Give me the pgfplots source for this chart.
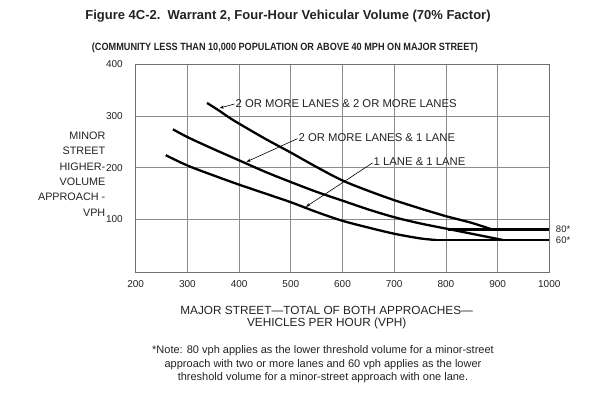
\documentclass[border=0pt]{standalone}
\usepackage{fontspec}
\setmainfont{Liberation Sans}
\usepackage{pgfplots}
\pgfplotsset{compat=1.18}
\usetikzlibrary{arrows.meta}
\definecolor{txt}{HTML}{222222}
\definecolor{gridc}{HTML}{8C8C8C}
\begin{document}
\begin{tikzpicture}
\path[use as bounding box] (-135.7pt,-123pt) rectangle (454.3pt,272pt);
\begin{axis}[
  at={(0pt,0pt)}, anchor=south west,
  scale only axis, width=413.6pt, height=207.8pt,
  xmin=200, xmax=1000, ymin=-2, ymax=400,
  xtick={200,300,400,500,600,700,800,900,1000},
  ytick={100,200,300,400},
  grid=major,
  major grid style={gridc, line width=0.7pt},
  axis line style={gridc!80!black, line width=0.8pt},
  major tick length=0pt,
  tick style={draw=none},
  clip=false,
  /pgf/number format/assume math mode=true,
  /pgf/number format/1000 sep={},
  ticklabel style={font=\fontsize{10}{12}\selectfont, text=txt},
  yticklabel style={xshift=-9.4pt},
  xticklabel style={yshift=-5pt},
]
% 2 or more lanes & 2 or more lanes
\addplot[black, line width=2.3pt, smooth] coordinates {
 (338,325) (360,311) (382,296) (400,285) (450,256) (500,229) (550,201)
 (600,175) (650,155) (700,137) (750,121) (800,106) (850,93) (890,80)};
% 2 or more lanes & 1 lane
\addplot[black, line width=2.3pt, smooth] coordinates {
 (272,274) (300,259) (350,236) (400,214) (450,192) (500,172) (550,153)
 (600,136) (650,119) (700,104) (750,92) (805,81) (850,72) (910,60)};
% 1 lane & 1 lane
\addplot[black, line width=2.3pt, smooth] coordinates {
 (258,224) (300,204) (350,185) (400,167) (450,150) (500,133) (550,114)
 (600,97) (650,84) (700,72) (750,63) (780,60)};
% threshold lines
\addplot[black, line width=2.3pt] coordinates {(805,80) (1000,80)};
\addplot[black, line width=2.3pt] coordinates {(778,60) (1000,60)};
% labels
\node[anchor=west, inner sep=1pt, text=txt, font=\fontsize{11.3}{12}\selectfont] at (axis cs:391,324) {2 OR MORE LANES \& 2 OR MORE LANES};
\draw[black, line width=0.6pt, -{Stealth[length=4.5pt,width=3pt]}] (axis cs:391,323) -- (axis cs:362,315);
\node[anchor=west, inner sep=1pt, text=txt, font=\fontsize{11.3}{12}\selectfont] at (axis cs:513,258) {2 OR MORE LANES \& 1 LANE};
\draw[black, line width=0.6pt, -{Stealth[length=4.5pt,width=3pt]}] (axis cs:513,256) -- (axis cs:414,211);
\node[anchor=west, inner sep=1pt, text=txt, font=\fontsize{11.3}{12}\selectfont] at (axis cs:658,211) {1 LANE \& 1 LANE};
\draw[black, line width=0.6pt, -{Stealth[length=4.5pt,width=3pt]}] (axis cs:658,209) -- (axis cs:529,124);
\node[anchor=west, inner sep=0pt, xshift=6.5pt, text=txt, font=\fontsize{9.5}{11}\selectfont] at (axis cs:1000,80) {80*};
\node[anchor=west, inner sep=0pt, xshift=6.5pt, text=txt, font=\fontsize{9.5}{11}\selectfont] at (axis cs:1000,60) {60*};
\end{axis}
% titles
\node[text=txt, font=\fontsize{13}{15}\bfseries\selectfont] at (152.3pt,255.5pt) {Figure 4C-2.\ \ Warrant 2, Four-Hour Vehicular Volume (70\% Factor)};
\node[text=txt] at (149.3pt,224pt) {\scalebox{0.87}[1]{\fontsize{10.5}{12}\bfseries\selectfont (COMMUNITY LESS THAN 10,000 POPULATION OR ABOVE 40 MPH ON MAJOR STREET)}};
% y label
\node[anchor=east, align=right, inner sep=0pt, text=txt, font=\fontsize{10.8}{15.4}\selectfont] at (-30.2pt,98pt) {MINOR\\STREET\\HIGHER-\\VOLUME\\APPROACH -\\VPH};
% x label
\node[align=center, text=txt, font=\fontsize{11.8}{11.6}\selectfont] at (191pt,-45.5pt) {MAJOR STREET---TOTAL OF BOTH APPROACHES---\\VEHICLES PER HOUR (VPH)};
% note
\node[align=center, text=txt, font=\fontsize{11}{13.3}\selectfont] at (187.3pt,-92.3pt) {*Note: 80 vph applies as the lower threshold volume for a minor-street\\approach with two or more lanes and 60 vph applies as the lower\\threshold volume for a minor-street approach with one lane.};
\end{tikzpicture}
\end{document}
